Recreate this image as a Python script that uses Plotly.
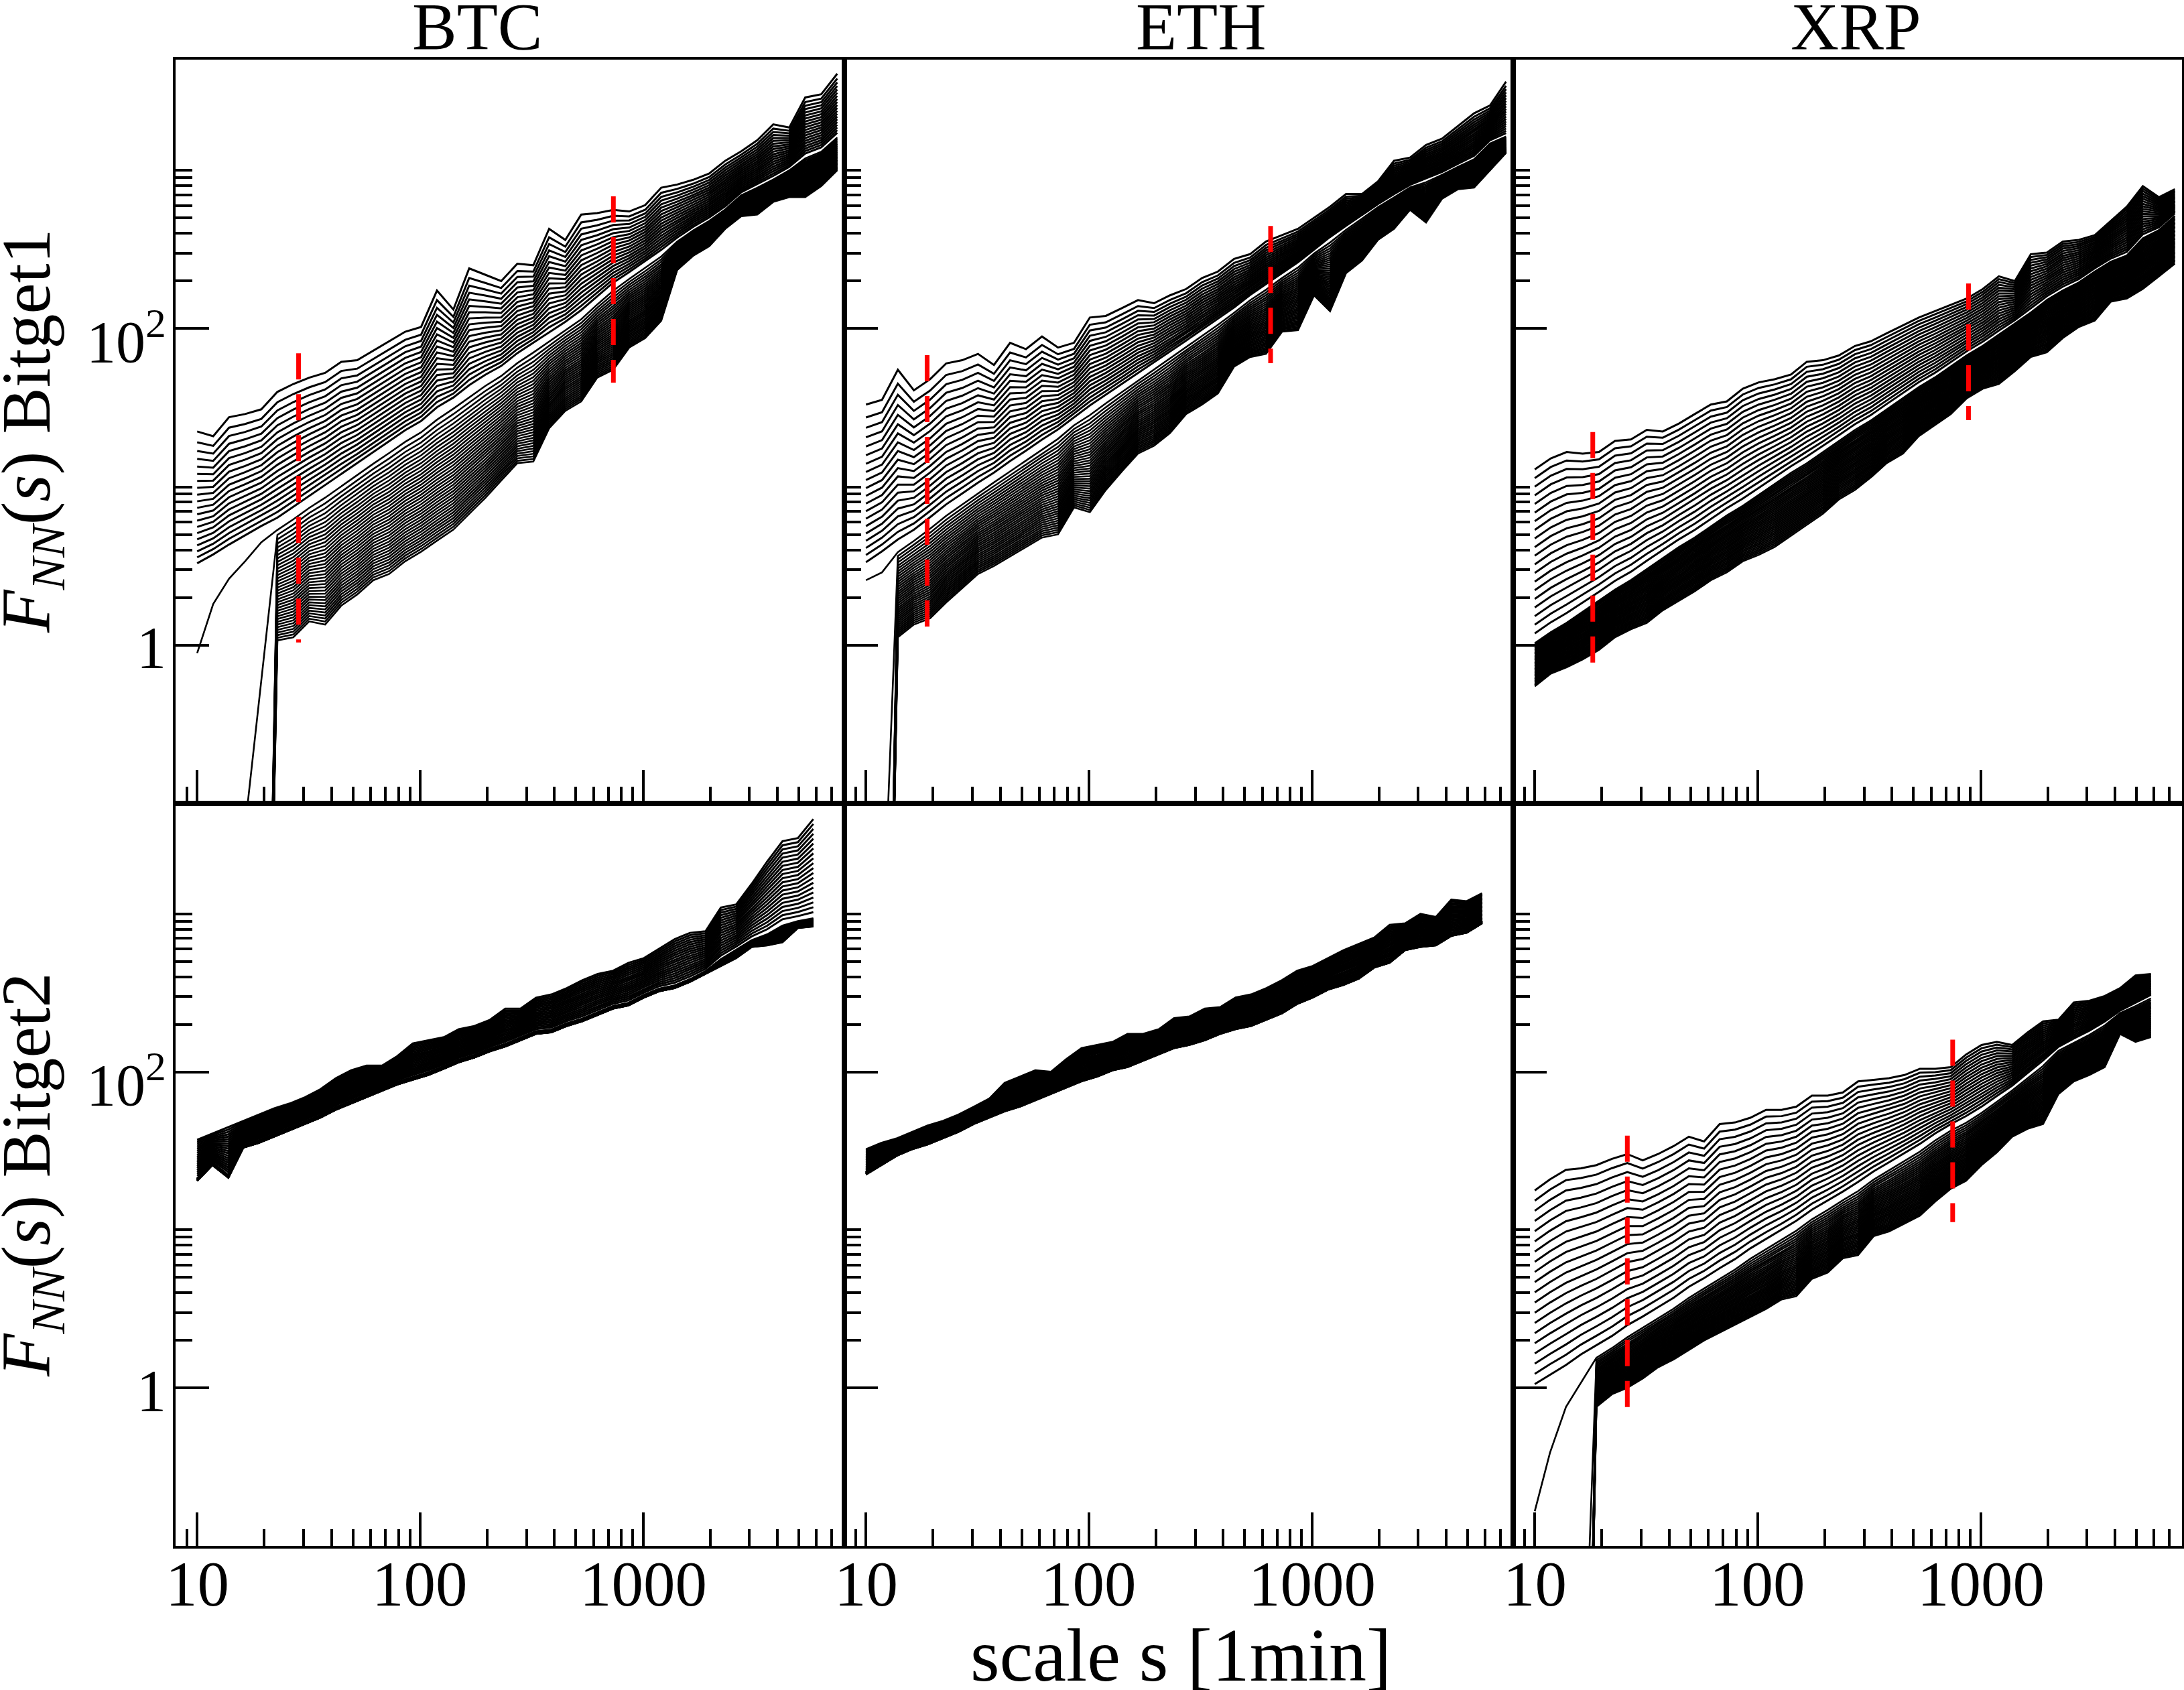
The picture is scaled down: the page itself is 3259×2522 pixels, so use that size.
import numpy as np
import plotly.graph_objects as go

# ---------------- data ----------------
# scale points (1-min units) of the fluctuation functions
S_TOP = [10, 11.8, 13.9, 16.4, 19.4, 22.9, 27.0, 31.8, 37.5, 44.3, 52.2, 61.6, 72.7, 85.7,
         101, 119, 141, 166, 196, 231, 273, 322, 379, 448, 528, 623, 735, 867, 1023, 1207,
         1423, 1679, 1981, 2337, 2757, 3253, 3837, 4527, 5340, 6300, 7433]
S_BOT = [10, 11.7, 13.8, 16.1, 18.9, 22.2, 26.0, 30.5, 35.7, 41.9, 49.1, 57.5, 67.5, 79.1,
         92.7, 109, 128, 149, 175, 206, 241, 282, 331, 388, 455, 534, 626, 734, 860, 1009,
         1182, 1386, 1625, 1906, 2234, 2620, 3071, 3601, 4222, 4950, 5804]

# log10 F_NN(s): upper envelope, white (highlighted) curve, lower envelope
BTC1_TOP = [1.35, 1.32, 1.44, 1.46, 1.49, 1.60, 1.65, 1.69, 1.72, 1.79, 1.80, 1.86, 1.92, 1.98,
            2.01, 2.24, 2.12, 2.38, 2.34, 2.30, 2.41, 2.40, 2.63, 2.56, 2.72, 2.73, 2.75, 2.74,
            2.78, 2.89, 2.91, 2.94, 2.98, 3.06, 3.12, 3.19, 3.29, 3.27, 3.46, 3.48, 3.61]
BTC1_WHITE = [0.48, 0.54, 0.60, 0.66, 0.72, 0.77, 0.84, 0.91, 0.98, 1.05, 1.12, 1.19, 1.26, 1.33,
              1.39, 1.47, 1.54, 1.61, 1.68, 1.74, 1.82, 1.89, 1.95, 2.02, 2.09, 2.18, 2.27, 2.34,
              2.41, 2.48, 2.56, 2.63, 2.69, 2.76, 2.85, 2.90, 2.95, 3.01, 3.09, 3.13, 3.22]
BTC1_BOT = [None] * 5 + [0.03, 0.05, 0.15, 0.13, 0.25, 0.32, 0.41, 0.45, 0.53, 0.59, 0.66, 0.73,
                         0.83, 0.93, 1.04, 1.15, 1.16, 1.37, 1.48, 1.54, 1.69, 1.74, 1.88, 1.94,
                         2.05, 2.37, 2.46, 2.52, 2.63, 2.71, 2.72, 2.80, 2.83, 2.83, 2.90, 3.00]
BTC1_LONE = [-0.05, 0.26, 0.42, 0.53, 0.65]
BTC1_DROP = [-5, -5, -5, -1.15, -0.23]

ETH1_TOP = [1.52, 1.55, 1.74, 1.61, 1.68, 1.78, 1.80, 1.84, 1.77, 1.91, 1.87, 1.95, 1.88, 1.91,
            2.07, 2.08, 2.13, 2.18, 2.16, 2.21, 2.25, 2.32, 2.36, 2.44, 2.47, 2.55, 2.59, 2.63,
            2.70, 2.77, 2.85, 2.85, 2.93, 3.06, 3.08, 3.16, 3.20, 3.28, 3.36, 3.41, 3.56]
ETH1_WHITE = [0.48, 0.55, 0.62, 0.69, 0.77, 0.85, 0.92, 0.99, 1.06, 1.13, 1.20, 1.27, 1.34, 1.42,
              1.49, 1.56, 1.63, 1.70, 1.77, 1.84, 1.91, 1.98, 2.05, 2.12, 2.20, 2.27, 2.34, 2.41,
              2.49, 2.57, 2.64, 2.71, 2.78, 2.84, 2.90, 2.94, 2.98, 3.03, 3.08, 3.18, 3.22]
ETH1_BOT = [None, None, 0.05, 0.13, 0.17, 0.27, 0.36, 0.45, 0.50, 0.56, 0.62, 0.68, 0.70, 0.87,
            0.84, 0.98, 1.10, 1.21, 1.26, 1.34, 1.46, 1.52, 1.59, 1.76, 1.82, 1.84, 1.98, 1.99,
            2.21, 2.11, 2.35, 2.43, 2.56, 2.63, 2.75, 2.67, 2.82, 2.88, 2.89, 3.00, 3.11]
ETH1_LONE = [0.41, 0.46]
ETH1_DROP = [-5, -2.0]

XRP1_TOP = [1.11, 1.18, 1.22, 1.21, 1.22, 1.29, 1.30, 1.36, 1.35, 1.40, 1.46, 1.52, 1.54, 1.62,
            1.66, 1.68, 1.71, 1.79, 1.80, 1.83, 1.89, 1.92, 1.97, 2.02, 2.07, 2.11, 2.15, 2.19,
            2.25, 2.33, 2.30, 2.47, 2.48, 2.55, 2.56, 2.59, 2.68, 2.77, 2.90, 2.83, 2.88]
XRP1_WHITE = [0.02, 0.09, 0.15, 0.22, 0.29, 0.36, 0.42, 0.49, 0.56, 0.63, 0.69, 0.76, 0.83, 0.89,
              0.96, 1.03, 1.10, 1.16, 1.23, 1.30, 1.37, 1.43, 1.50, 1.57, 1.64, 1.70, 1.77, 1.84,
              1.90, 1.97, 2.04, 2.11, 2.19, 2.25, 2.30, 2.37, 2.43, 2.47, 2.58, 2.63, 2.72]
XRP1_BOT = [-0.26, -0.18, -0.14, -0.09, -0.03, 0.05, 0.10, 0.14, 0.22, 0.28, 0.34, 0.41, 0.46,
            0.53, 0.57, 0.62, 0.69, 0.76, 0.83, 0.92, 0.98, 1.06, 1.15, 1.21, 1.32, 1.39, 1.46,
            1.56, 1.62, 1.65, 1.73, 1.82, 1.85, 1.94, 2.01, 2.05, 2.17, 2.19, 2.25, 2.33, 2.41]

BTC2_TOP = [1.57, 1.61, 1.65, 1.69, 1.73, 1.77, 1.80, 1.84, 1.89, 1.96, 2.01, 2.04, 2.04, 2.10,
            2.18, 2.20, 2.22, 2.27, 2.29, 2.33, 2.40, 2.40, 2.47, 2.49, 2.53, 2.58, 2.62, 2.64,
            2.69, 2.72, 2.78, 2.84, 2.88, 2.89, 3.04, 3.06, 3.19, 3.33, 3.46, 3.48, 3.60]
BTC2_WHITE = [1.33, 1.43, 1.35, 1.54, 1.57, 1.61, 1.65, 1.69, 1.73, 1.78, 1.82, 1.86, 1.90, 1.94,
              1.97, 2.00, 2.04, 2.08, 2.11, 2.15, 2.18, 2.22, 2.26, 2.27, 2.31, 2.34, 2.38, 2.42,
              2.44, 2.49, 2.53, 2.55, 2.59, 2.64, 2.72, 2.78, 2.84, 2.88, 2.94, 2.96, 2.98]
BTC2_BOT = [1.31, 1.41, 1.33, 1.52, 1.55, 1.59, 1.63, 1.67, 1.71, 1.76, 1.80, 1.84, 1.88, 1.92,
            1.95, 1.98, 2.02, 2.06, 2.09, 2.13, 2.16, 2.20, 2.24, 2.25, 2.29, 2.32, 2.36, 2.40,
            2.42, 2.47, 2.51, 2.53, 2.57, 2.62, 2.67, 2.72, 2.79, 2.80, 2.82, 2.91, 2.92]

ETH2_TOP = [1.51, 1.55, 1.58, 1.62, 1.66, 1.69, 1.73, 1.78, 1.83, 1.93, 1.97, 2.01, 2.00, 2.08,
            2.15, 2.17, 2.19, 2.24, 2.24, 2.27, 2.34, 2.35, 2.40, 2.41, 2.47, 2.49, 2.53, 2.58,
            2.64, 2.67, 2.72, 2.77, 2.81, 2.85, 2.93, 2.94, 3.00, 2.98, 3.09, 3.08, 3.13]
ETH2_WHITE = [1.37, 1.43, 1.49, 1.53, 1.56, 1.60, 1.64, 1.69, 1.73, 1.77, 1.80, 1.84, 1.88, 1.92,
              1.96, 1.99, 2.03, 2.05, 2.09, 2.13, 2.17, 2.19, 2.22, 2.26, 2.29, 2.31, 2.35, 2.39,
              2.45, 2.49, 2.54, 2.57, 2.61, 2.68, 2.71, 2.79, 2.81, 2.82, 2.88, 2.90, 2.96]
ETH2_BOT = [1.35, 1.41, 1.47, 1.51, 1.54, 1.58, 1.62, 1.67, 1.71, 1.75, 1.78, 1.82, 1.86, 1.90,
            1.94, 1.97, 2.01, 2.03, 2.07, 2.11, 2.15, 2.17, 2.20, 2.24, 2.27, 2.29, 2.33, 2.37,
            2.43, 2.47, 2.52, 2.55, 2.59, 2.66, 2.69, 2.77, 2.79, 2.80, 2.86, 2.88, 2.94]

XRP2_TOP = [1.25, 1.32, 1.38, 1.39, 1.41, 1.45, 1.48, 1.44, 1.48, 1.53, 1.59, 1.56, 1.67, 1.68,
            1.71, 1.76, 1.76, 1.78, 1.85, 1.85, 1.87, 1.94, 1.95, 1.96, 1.98, 2.02, 2.02, 2.03,
            2.11, 2.17, 2.19, 2.17, 2.25, 2.32, 2.33, 2.44, 2.45, 2.48, 2.53, 2.61, 2.62]
XRP2_WHITE = [-0.04, 0.02, 0.08, 0.15, 0.21, 0.27, 0.34, 0.40, 0.46, 0.52, 0.59, 0.65, 0.71, 0.77,
              0.84, 0.90, 0.96, 1.02, 1.09, 1.15, 1.21, 1.27, 1.34, 1.40, 1.46, 1.52, 1.59, 1.65,
              1.70, 1.76, 1.83, 1.90, 1.98, 2.06, 2.15, 2.20, 2.25, 2.31, 2.38, 2.43, 2.48]
XRP2_BOT = [None] * 4 + [-0.12, -0.04, 0.00, 0.06, 0.13, 0.18, 0.24, 0.30, 0.35, 0.40, 0.45, 0.50,
                         0.56, 0.58, 0.69, 0.73, 0.82, 0.84, 0.96, 0.99, 1.04, 1.09, 1.18, 1.26,
                         1.31, 1.41, 1.49, 1.59, 1.64, 1.67, 1.86, 1.94, 1.98, 2.03, 2.24, 2.19, 2.22]
XRP2_LONE = [-0.78, -0.41, -0.12, 0.03]
XRP2_DROP = [-5, -5, -5, -2.5]

# red dashed fit-range markers: (s, F_low, F_high)
BTC1_RED = [(28.5, 1.04, 69.8), (736, 45.5, 684)]
ETH1_RED = [(18.8, 1.29, 68.0), (653, 60.5, 445)]
XRP1_RED = [(18.2, 0.77, 22.2), (882, 26.4, 193)]
XRP2_RED = [(26.0, 0.75, 39.5), (749, 11.2, 160)]

COL_TITLES = ["BTC", "ETH", "XRP"]
ROW_LABELS = ["Bitget1", "Bitget2"]
X_TICKS = [10, 100, 1000]
X_TICKTEXT = ["10", "100", "1000"]
Y_TICKS = [1, 100]
Y_TICKTEXT = ["1", "10<sup>2</sup>"]

N_UP, N_LOW = 20, 36          # curves above / below the highlighted curve
TINY = -5.0                   # log10 of vanishing values (off the axis)

PANELS = [
    dict(s=S_TOP, top=BTC1_TOP, white=BTC1_WHITE, bot=BTC1_BOT, lone=BTC1_LONE, drop=BTC1_DROP, gu=0.85, g=0.8, red=BTC1_RED),
    dict(s=S_TOP, top=ETH1_TOP, white=ETH1_WHITE, bot=ETH1_BOT, lone=ETH1_LONE, drop=ETH1_DROP, gu=0.85, g=0.8, red=ETH1_RED),
    dict(s=S_TOP, top=XRP1_TOP, white=XRP1_WHITE, bot=XRP1_BOT, lone=None, drop=None, gu=1.0, g=1.0, red=XRP1_RED),
    dict(s=S_BOT, top=BTC2_TOP, white=BTC2_WHITE, bot=BTC2_BOT, lone=None, drop=None, gu=1.0, g=0.6, red=[]),
    dict(s=S_BOT, top=ETH2_TOP, white=ETH2_WHITE, bot=ETH2_BOT, lone=None, drop=None, gu=1.0, g=1.0, red=[]),
    dict(s=S_BOT, top=XRP2_TOP, white=XRP2_WHITE, bot=XRP2_BOT, lone=XRP2_LONE, drop=XRP2_DROP, gu=1.0, g=0.8, red=XRP2_RED),
]

# ---------------- layout geometry (pixels of the 3259x2522 page) ----------------
W, H = 3259, 2522
COL_X = [262, 1260, 2258, 3256]
ROW_Y = [89, 1199, 2307]
XMIN, XMAX = np.log10(8), np.log10(8000)
YMIN, YMAX = -1.0, np.log10(5000)
LW_UP, LW_LOW = 3.0, 2.6
FONT = "Liberation Serif"


def family(p):
    top = np.array(p["top"], float)
    white = np.array(p["white"], float)
    n = len(top)
    ks = 0 if p["lone"] is None else len(p["lone"])
    bot = np.array([np.nan if v is None else v for v in p["bot"]], float)
    upper = [top + (white - top) * (i / N_UP) ** p["gu"] for i in range(N_UP)]
    lower = []
    for j in range(1, N_LOW + 1):
        f = (j / N_LOW) ** p["g"]
        y = np.empty(n)
        for k in range(n):
            if k < ks:
                y[k] = p["lone"][k] if j == 1 else (p["drop"][k] if j == 2 else TINY)
            else:
                y[k] = white[k] + (bot[k] - white[k]) * f
        lower.append(y)
    return upper, white, lower


def joined(s, curves):
    xs, ys = [], []
    for c in curves:
        xs += list(s) + [None]
        ys += list(10.0 ** np.asarray(c)) + [None]
    return xs, ys


fig = go.Figure()
for idx, p in enumerate(PANELS):
    n = idx + 1
    xa, ya = ("x" if n == 1 else f"x{n}"), ("y" if n == 1 else f"y{n}")
    upper, white, lower = family(p)
    fig.add_trace(go.Scatter(x=p["s"], y=10.0 ** white, mode="lines",
                             line=dict(color="white", width=LW_UP), xaxis=xa, yaxis=ya, hoverinfo="skip"))
    xs, ys = joined(p["s"], lower[::-1])
    fig.add_trace(go.Scatter(x=xs, y=ys, mode="lines", line=dict(color="black", width=LW_LOW),
                             xaxis=xa, yaxis=ya, hoverinfo="skip"))
    xs, ys = joined(p["s"], upper[::-1])
    fig.add_trace(go.Scatter(x=xs, y=ys, mode="lines", line=dict(color="black", width=LW_UP),
                             xaxis=xa, yaxis=ya, hoverinfo="skip"))
    for (sv, flo, fhi) in p["red"]:
        fig.add_trace(go.Scatter(x=[sv, sv], y=[fhi, flo], mode="lines",
                                 line=dict(color="#ff0000", width=7, dash="39px,22px"),
                                 xaxis=xa, yaxis=ya, hoverinfo="skip"))

X_MINOR = [9] + [v * 10 for v in range(2, 10)] + [v * 100 for v in range(2, 10)] + \
          [v * 1000 for v in range(2, 8)]
Y_MINOR = list(range(2, 11)) + [v * 100 for v in range(2, 11)]

layout = dict(width=W, height=H, margin=dict(l=0, r=0, t=0, b=0, autoexpand=False), autosize=False,
              paper_bgcolor="white", plot_bgcolor="white", showlegend=False,
              font=dict(family=FONT, color="black"))
for idx in range(6):
    r, c = divmod(idx, 3)
    n = idx + 1
    xkey = "xaxis" if n == 1 else f"xaxis{n}"
    ykey = "yaxis" if n == 1 else f"yaxis{n}"
    layout[xkey] = dict(
        domain=[COL_X[c] / W, COL_X[c + 1] / W], anchor=("y" if n == 1 else f"y{n}"),
        type="log", range=[XMIN, XMAX], automargin=False,
        showline=True, linewidth=4, linecolor="black", mirror=True,
        ticks="inside", ticklen=50, tickwidth=3.5, tickcolor="black",
        tickmode="array", tickvals=X_TICKS, ticktext=X_TICKTEXT, showticklabels=False,
        minor=dict(ticks="inside", ticklen=25, tickwidth=3.5, tickcolor="black",
                   tickmode="array", tickvals=X_MINOR, showgrid=False),
        showgrid=False, zeroline=False)
    layout[ykey] = dict(
        domain=[1 - ROW_Y[r + 1] / H, 1 - ROW_Y[r] / H], anchor=("x" if n == 1 else f"x{n}"),
        type="log", range=[YMIN, YMAX], automargin=False,
        showline=True, linewidth=4, linecolor="black", mirror=True,
        ticks="inside", ticklen=50, tickwidth=3.5, tickcolor="black",
        tickmode="array", tickvals=Y_TICKS, ticktext=Y_TICKTEXT, showticklabels=False,
        minor=dict(ticks="inside", ticklen=25, tickwidth=3.5, tickcolor="black",
                   tickmode="array", tickvals=Y_MINOR, showgrid=False),
        showgrid=False, zeroline=False)

ann = []
# tick labels placed as text at the axis tick positions
for c in range(3):
    for v, t in zip(X_TICKS, X_TICKTEXT):
        px = COL_X[c] + (np.log10(v) - XMIN) / (XMAX - XMIN) * (COL_X[c + 1] - COL_X[c])
        ann.append(dict(text=t, x=px / W, y=1 - 2364 / H, xref="paper", yref="paper",
                        xanchor="center", yanchor="middle", showarrow=False,
                        font=dict(family=FONT, size=95, color="black")))
for r in range(2):
    for v, t in zip(Y_TICKS, Y_TICKTEXT):
        py = ROW_Y[r] + (YMAX - np.log10(v)) / (YMAX - YMIN) * (ROW_Y[r + 1] - ROW_Y[r])
        py += 4 if v == 1 else 13
        ann.append(dict(text=t, x=250 / W, y=1 - py / H, xref="paper", yref="paper",
                        xanchor="right", yanchor="middle", showarrow=False,
                        font=dict(family=FONT, size=88, color="black")))
for title, xc in zip(COL_TITLES, [712, 1792, 2769]):
    ann.append(dict(text=title, x=xc / W, y=1 - 40 / H, xref="paper", yref="paper",
                    xanchor="center", yanchor="middle", showarrow=False,
                    font=dict(family=FONT, size=100, color="black")))
for lab, yc in zip(ROW_LABELS, [643, 1753]):
    ann.append(dict(text=f"<i>F</i><sub><i>NN</i></sub>(<i>s</i>) {lab}", x=46 / W, y=1 - yc / H,
                    xref="paper", yref="paper", xanchor="center", yanchor="middle",
                    textangle=-90, showarrow=False, font=dict(family=FONT, size=104, color="black")))
ann.append(dict(text="scale s [1min]", x=1762 / W, y=1 - 2470 / H, xref="paper", yref="paper",
                xanchor="center", yanchor="middle", showarrow=False,
                font=dict(family=FONT, size=112, color="black")))
layout["annotations"] = ann
fig.update_layout(**layout)
fig.write_html("out.html")
